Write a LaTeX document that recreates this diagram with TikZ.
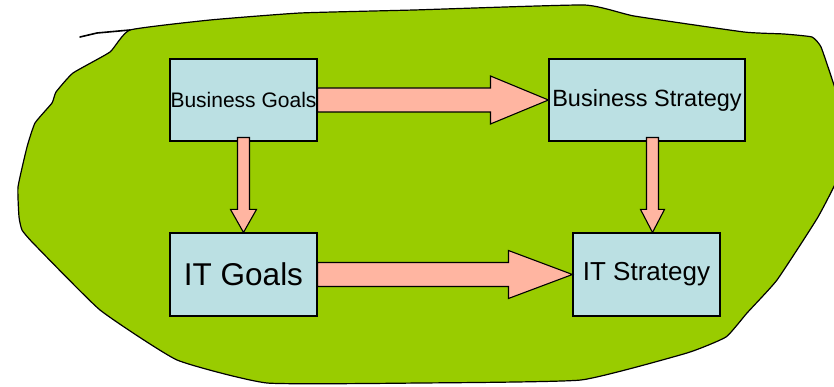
\documentclass[tikz,border=0pt]{standalone}
\usepackage{fontspec}
\setmainfont{Liberation Sans}
\usetikzlibrary{calc}
\definecolor{Leaf}{HTML}{99CC00}
\definecolor{Ice}{HTML}{BBE0E3}
\definecolor{Salmon}{HTML}{FFB5A1}
\tikzset{box/.style={draw=black,fill=Ice,line width=1.1pt,inner sep=0pt,align=center},fat/.style={draw=black,fill=Salmon,line width=1.1pt,line join=miter},blob/.style={draw=black,fill=Leaf,line width=1.2pt}}
% block arrows: from, to, half shaft, half head, head length
\newcommand{\fatright}[5]{\draw[fat] let \p1=(#1),\p2=(#2) in (\x1,\y2+#3)--(\x2-#5,\y2+#3)--(\x2-#5,\y2+#4)--(\x2,\y2)--(\x2-#5,\y2-#4)--(\x2-#5,\y2-#3)--(\x1,\y2-#3)--cycle;}
\newcommand{\fatdown}[5]{\draw[fat] let \p1=(#1),\p2=(#2) in (\x2-#3,\y1)--(\x2-#3,\y2+#5)--(\x2-#4,\y2+#5)--(\x2,\y2)--(\x2+#4,\y2+#5)--(\x2+#3,\y2+#5)--(\x2+#3,\y1)--cycle;}

\begin{document}
\begin{tikzpicture}[x=1pt,y=-1pt]
        \useasboundingbox (0,0) rectangle (834,387);
        % the green patch
        \draw[blob] plot[smooth cycle,tension=.25] coordinates {(130,30) (210,20) (300,13) (414,10) (584,5) (634,16) (744,32) (784,34) (812,37) (821,47) (833,82) (842,112) (842,168) (818,217) (777,280) (747,313) (726,337) (687,353) (581,380) (420,383) (267,383) (177,360) (100,310) (33,243) (22,230) (19,217) (18,187) (27,147) (35,123) (52,103) (56,92) (73,73) (110,52)};
        \draw[line width=1.6pt,line cap=round] (80,37)--(97,33)--(130,30);
        \node[box,minimum width=147pt,minimum height=82pt,font=\fontsize{21}{25}\selectfont] (bizgoals) at (243.5,100) {Business Goals};
        \node[box,minimum width=196pt,minimum height=82pt,font=\fontsize{23.5}{28}\selectfont] (bizstrat) at (647,100) {Business Strategy};
        \node[box,minimum width=147pt,minimum height=83pt,font=\fontsize{31.5}{36}\selectfont] (itgoals) at (243.5,274.5) {IT Goals};
        \node[box,minimum width=147pt,minimum height=83pt,font=\fontsize{26}{30}\selectfont] (itstrat) at (646.5,274.5) {IT Strategy};
        \fatright{bizgoals.east}{bizstrat.west}{12pt}{24pt}{58pt}
        \fatright{itgoals.east}{itstrat.west}{12pt}{24pt}{64pt}
        \fatdown{$(bizgoals.south)+(0,-4)$}{itgoals.north}{6pt}{13pt}{23pt}
        \fatdown{$(bizstrat.south)+(0,-4)$}{$(itstrat.north)+(6,0)$}{6pt}{12pt}{23pt}
      \end{tikzpicture}
\end{document}
